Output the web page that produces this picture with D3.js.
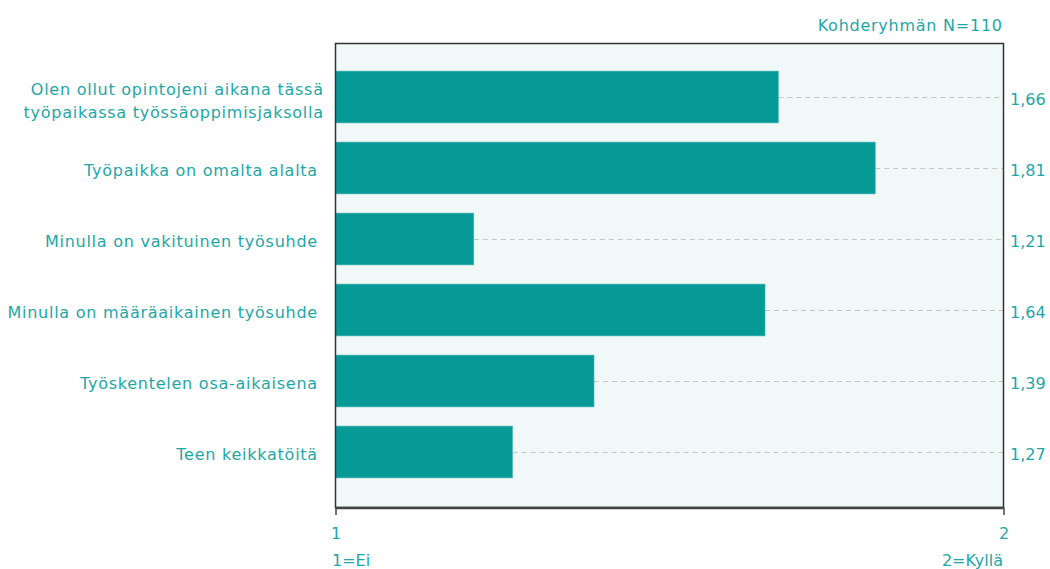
<!DOCTYPE html>
<html><head><meta charset="utf-8">
<script src="https://cdn.jsdelivr.net/npm/d3@7"></script>
<style>body{margin:0;background:#fff}svg{display:block}text{font-family:"DejaVu Sans",Verdana,sans-serif;white-space:pre}</style>
</head><body>
<script>
const categories = [
  ["Olen ollut opintojeni aikana tässä", "työpaikassa työssäoppimisjaksolla"],
  ["Työpaikka on omalta alalta "],
  ["Minulla on vakituinen työsuhde "],
  ["Minulla on määräaikainen työsuhde "],
  ["Työskentelen osa-aikaisena "],
  ["Teen keikkatöitä "]
];
const values = [1.663, 1.808, 1.207, 1.643, 1.387, 1.265];
const valueLabels = ["1,66", "1,81", "1,21", "1,64", "1,39", "1,27"];
const xTicks = [1, 2];
const scaleLabels = ["1=Ei", "2=Kyllä"];
const headerText = "Kohderyhmän N=110";

(function(){
const W = 1050, H = 569;
const pL = 335.5, pR = 1003.5, pT = 43.5, pB = 507.5;
const teal = "#1ea7a7", barColor = "#069a97";
const FS = 16, LS = 0.75;

const svg = d3.select("body").append("svg").attr("width", W).attr("height", H);

const x = d3.scaleLinear().domain([1, 2]).range([pL, pR]);
const y = d3.scaleBand().domain(d3.range(values.length)).range([61.5, 487.5]).paddingInner(0.27).paddingOuter(0.135);
const cy = i => y(i) + y.bandwidth() / 2;

svg.append("rect").attr("x", pL).attr("y", pT).attr("width", pR - pL).attr("height", pB - pT)
  .attr("fill", "#f1f9f8");

svg.append("g").selectAll("line").data(values).join("line")
  .attr("x1", d => x(d)).attr("x2", pR)
  .attr("y1", (d, i) => Math.round(cy(i)) + 0.5)
  .attr("y2", (d, i) => Math.round(cy(i)) + 0.5)
  .attr("stroke", "#c6c6c6").attr("stroke-dasharray", "5,4");

svg.append("g").selectAll("rect").data(values).join("rect")
  .attr("x", pL).attr("y", (d, i) => y(i)).attr("width", d => x(d) - pL).attr("height", y.bandwidth())
  .attr("fill", barColor).attr("stroke", "#4fb8b5").attr("stroke-width", 0.6);

svg.append("rect").attr("x", pL).attr("y", pT).attr("width", pR - pL).attr("height", pB - pT)
  .attr("fill", "none").attr("stroke", "#333").attr("stroke-width", 1.5);
svg.append("line").attr("x1", pL).attr("x2", pR).attr("y1", pB + 0.5).attr("y2", pB + 0.5)
  .attr("stroke", "#444").attr("stroke-width", 2.5);

const xAxis = d3.axisBottom(x).tickValues(xTicks).tickSize(7.5).tickPadding(13).tickFormat(d3.format("d"));
const ga = svg.append("g").attr("transform", `translate(0,${pB})`).call(xAxis);
ga.select(".domain").remove();
ga.selectAll(".tick line").attr("stroke", "#444").attr("stroke-width", 1.5);
ga.selectAll(".tick text").attr("fill", teal).attr("font-size", FS).attr("dy", "0.71em")
  .style("font-family", '"DejaVu Sans",Verdana,sans-serif');

const lab = svg.append("g").selectAll("text").data(categories).join("text")
  .attr("text-anchor", "end").attr("fill", teal).attr("font-size", FS)
  .attr("letter-spacing", LS).attr("xml:space", "preserve")
  .attr("y", (d, i) => cy(i));
lab.each(function(d) {
  const t = d3.select(this);
  const n = d.length;
  d.forEach((line, k) => {
    t.append("tspan").attr("x", 323 + LS)
      .attr("dy", n === 1 ? 8 : (k === 0 ? -2 : 23)).text(line);
  });
});

svg.append("g").selectAll("text").data(valueLabels).join("text")
  .attr("x", 1010).attr("y", (d, i) => cy(i) + 8)
  .attr("fill", teal).attr("font-size", FS).text(d => d);

svg.append("text").attr("x", 1002 + LS).attr("y", 30.5).attr("text-anchor", "end").attr("fill", teal)
  .attr("letter-spacing", LS).attr("font-size", FS).text(headerText);
svg.append("text").attr("x", 332).attr("y", 566).attr("fill", teal).attr("font-size", FS).text(scaleLabels[0]);
svg.append("text").attr("x", 1003).attr("y", 566).attr("text-anchor", "end").attr("fill", teal).attr("font-size", FS).text(scaleLabels[1]);
})();
</script>
</body></html>
